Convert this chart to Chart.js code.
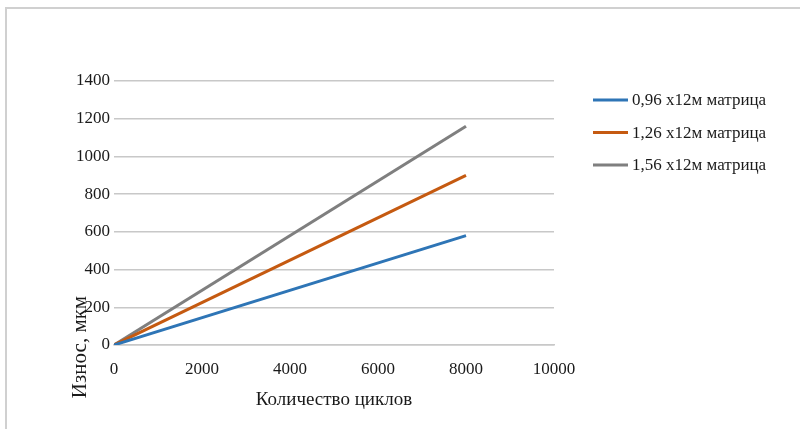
<!DOCTYPE html>
<html>
<head>
<meta charset="utf-8">
<script src="https://cdn.jsdelivr.net/npm/chart.js@4"></script>
<style>
    html, body { margin: 0; padding: 0; background: #fff; }
    #wrap { position: relative; width: 800px; height: 429px; }
</style>
</head>
<body>
<div id="wrap"><canvas id="wearChart" width="800" height="429"></canvas></div>
<script>
// Chart data
const cycles = [0, 8000];
const wearSmall = [0, 580];
const wearMedium = [0, 900];
const wearLarge = [0, 1160];
const seriesLabels = ['0,96 x12м матрица', '1,26 x12м матрица', '1,56 x12м матрица'];
const seriesColors = ['#2e75b6', '#c55a11', '#7f7f7f'];
const xTitle = 'Количество циклов';
const yTitle = 'Износ, мкм';

const FONT = '"Liberation Serif", "Times New Roman", serif';

function toPoints(values) {
    return cycles.map((c, i) => ({ x: c, y: values[i] }));
}

// Frame, y title and legend drawn by hand to follow the original layout
const decorPlugin = {
    id: 'decor',
    beforeDraw(chart) {
        const ctx = chart.ctx;
        ctx.save();
        ctx.strokeStyle = '#d0d0d0';
        ctx.lineWidth = 2;
        ctx.beginPath();
        ctx.moveTo(6, 429);
        ctx.lineTo(6, 8);
        ctx.lineTo(800, 8);
        ctx.stroke();
        ctx.restore();
    },
    afterDraw(chart) {
        const ctx = chart.ctx;
        ctx.save();
        // y axis title
        ctx.translate(80, 347);
        ctx.rotate(-Math.PI / 2);
        ctx.fillStyle = '#1a1a1a';
        ctx.font = '21px ' + FONT;
        ctx.textAlign = 'center';
        ctx.textBaseline = 'middle';
        ctx.fillText(yTitle, 0, 0);
        ctx.restore();

        // legend
        ctx.save();
        ctx.font = '17px ' + FONT;
        ctx.textBaseline = 'middle';
        chart.data.datasets.forEach((ds, i) => {
            const y = 100 + i * 32.5;
            ctx.strokeStyle = ds.borderColor;
            ctx.lineWidth = 3;
            ctx.beginPath();
            ctx.moveTo(593, y);
            ctx.lineTo(628, y);
            ctx.stroke();
            ctx.fillStyle = '#1a1a1a';
            ctx.fillText(ds.label, 632, y + 1);
        });
        ctx.restore();
    }
};

document.addEventListener('DOMContentLoaded', function() {
    const ctx = document.getElementById('wearChart').getContext('2d');
    new Chart(ctx, {
        type: 'line',
        data: {
            datasets: [wearSmall, wearMedium, wearLarge].map((vals, i) => ({
                label: seriesLabels[i],
                data: toPoints(vals),
                borderColor: seriesColors[i],
                backgroundColor: seriesColors[i],
                borderWidth: 3,
                pointRadius: 0,
                tension: 0
            }))
        },
        options: {
            responsive: false,
            animation: false,
            layout: {
                padding: { left: 0, top: 81, right: 246, bottom: 0 }
            },
            plugins: {
                legend: { display: false },
                tooltip: { enabled: false }
            },
            scales: {
                x: {
                    type: 'linear',
                    min: 0,
                    max: 10000,
                    ticks: {
                        stepSize: 2000,
                        color: '#1a1a1a',
                        font: { family: FONT, size: 17 },
                        padding: 14,
                        maxRotation: 0,
                        callback: (v) => String(v)
                    },
                    grid: { display: false, drawTicks: false },
                    border: { display: true, color: '#c8c8c8', width: 1.5 },
                    title: {
                        display: true,
                        text: xTitle,
                        color: '#1a1a1a',
                        font: { family: FONT, size: 19 },
                        padding: { top: 0, bottom: 18 }
                    },
                    afterFit(scale) { scale.height = 84; }
                },
                y: {
                    min: 0,
                    max: 1400,
                    ticks: {
                        stepSize: 200,
                        color: '#1a1a1a',
                        font: { family: FONT, size: 17 },
                        padding: 4,
                        callback: (v) => String(v)
                    },
                    grid: { color: '#c8c8c8', lineWidth: 1.5, drawTicks: false },
                    border: { display: false },
                    afterFit(scale) { scale.width = 114; }
                }
            }
        },
        plugins: [decorPlugin]
    });
});
</script>
</body>
</html>
